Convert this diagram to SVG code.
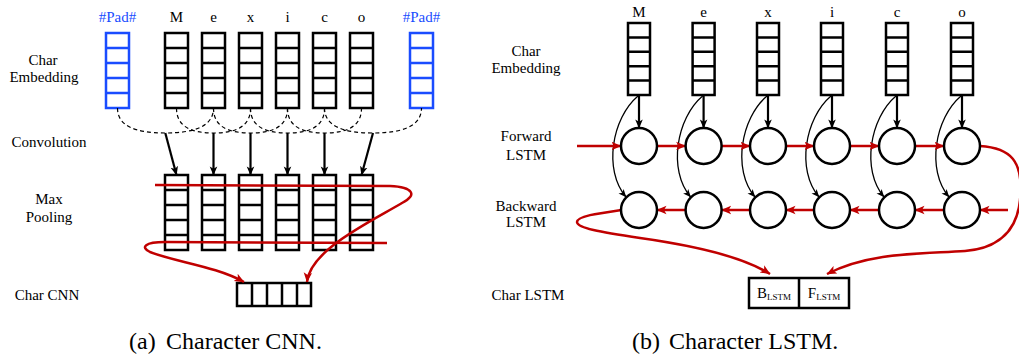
<svg xmlns="http://www.w3.org/2000/svg" width="1019" height="356" viewBox="0 0 1019 356" font-family="Liberation Serif, DejaVu Serif, serif">
<style>
text{font-family:'Liberation Serif','DejaVu Serif',serif;font-size:15px;fill:#000}
.lbl{text-anchor:middle}
.pad{fill:#1a4cff}
.box{fill:#fff;stroke:#000;stroke-width:2.5}
.bbox{fill:#fff;stroke:#1a4cff;stroke-width:2.5}
.cell{stroke:#000;stroke-width:2.5}
.bcell{stroke:#1a4cff;stroke-width:2.5}
.circ{fill:#fff;stroke:#000;stroke-width:2.5}
.dash{fill:none;stroke:#000;stroke-width:1.2;stroke-dasharray:4 3}
.blk{fill:none;stroke:#000;stroke-width:2.2}
.thin{fill:none;stroke:#000;stroke-width:1.3}
.red{fill:none;stroke:#c00000;stroke-width:2.5}
.cap{font-size:24px}
</style>
<defs>
<marker id="ahb" viewBox="0 0 10 10" refX="9.5" refY="5" markerWidth="9" markerHeight="9" markerUnits="userSpaceOnUse" orient="auto"><path d="M0,0.8 L10,5 L0,9.2 L2.5,5 z" fill="#000"/></marker>
<marker id="aht" viewBox="0 0 10 10" refX="9.5" refY="5" markerWidth="8" markerHeight="8" markerUnits="userSpaceOnUse" orient="auto"><path d="M0,0.8 L10,5 L0,9.2 L2.5,5 z" fill="#000"/></marker>
<marker id="ahr" viewBox="0 0 10 10" refX="9.5" refY="5" markerWidth="10" markerHeight="10" markerUnits="userSpaceOnUse" orient="auto"><path d="M0,0.8 L10,5 L0,9.2 L2.5,5 z" fill="#c00000"/></marker>
<g id="col5">
<rect class="box" x="0" y="0" width="23" height="75"/>
<path class="cell" d="M0,15H23M0,30H23M0,45H23M0,60H23"/>
</g>
<g id="bcol5">
<rect class="bbox" x="0" y="0" width="23" height="75"/>
<path class="bcell" d="M0,15H23M0,30H23M0,45H23M0,60H23"/>
</g>
<g id="rcol5">
<rect class="box" x="0" y="0" width="22" height="72"/>
<path class="cell" d="M0,14.4H22M0,28.8H22M0,43.2H22M0,57.6H22"/>
</g>
</defs>

<!-- ============ Panel (a) Character CNN ============ -->
<g id="a-labels">
<text class="lbl" x="43" y="65">Char</text>
<text class="lbl" x="44" y="82">Embedding</text>
<text class="lbl" x="49" y="147">Convolution</text>
<text class="lbl" x="49" y="204">Max</text>
<text class="lbl" x="49" y="222">Pooling</text>
<text class="lbl" x="47" y="300">Char CNN</text>
</g>

<g id="a-emb-padL"><text class="lbl pad" x="117.5" y="22">#Pad#</text><use href="#bcol5" x="106" y="33"/></g>
<g id="a-emb-M"><text class="lbl" x="176.5" y="22">M</text><use href="#col5" x="165" y="33"/></g>
<g id="a-emb-e"><text class="lbl" x="213.5" y="22">e</text><use href="#col5" x="202" y="33"/></g>
<g id="a-emb-x"><text class="lbl" x="250.5" y="22">x</text><use href="#col5" x="239" y="33"/></g>
<g id="a-emb-i"><text class="lbl" x="287.5" y="22">i</text><use href="#col5" x="276" y="33"/></g>
<g id="a-emb-c"><text class="lbl" x="324.5" y="22">c</text><use href="#col5" x="313" y="33"/></g>
<g id="a-emb-o"><text class="lbl" x="361.5" y="22">o</text><use href="#col5" x="350" y="33"/></g>
<g id="a-emb-padR"><text class="lbl pad" x="421.5" y="22">#Pad#</text><use href="#bcol5" x="410" y="33"/></g>

<g id="a-pool-1"><use href="#col5" x="165" y="175"/></g>
<g id="a-pool-2"><use href="#col5" x="202" y="175"/></g>
<g id="a-pool-3"><use href="#col5" x="239" y="175"/></g>
<g id="a-pool-4"><use href="#col5" x="276" y="175"/></g>
<g id="a-pool-5"><use href="#col5" x="313" y="175"/></g>
<g id="a-pool-6"><use href="#col5" x="350" y="175"/></g>

<g id="a-charcnn">
<rect class="box" x="237" y="283" width="74" height="23"/>
<path class="cell" d="M252,283V306M267,283V306M282,283V306M297,283V306"/>
</g>

<g id="a-connectors">
<path class="dash" d="M117.5,108 C117.5,126 135,133 165.3,133 C195,133 213.5,126 213.5,108"/>
<path class="dash" d="M176.5,108 C176.5,126 190,133 213.5,133 C237,133 250.5,126 250.5,108"/>
<path class="dash" d="M213.5,108 C213.5,126 227,133 250.5,133 C274,133 287.5,126 287.5,108"/>
<path class="dash" d="M250.5,108 C250.5,126 264,133 287.5,133 C311,133 324.5,126 324.5,108"/>
<path class="dash" d="M287.5,108 C287.5,126 301,133 324.5,133 C348,133 361.5,126 361.5,108"/>
<path class="dash" d="M324.5,108 C324.5,126 343,133 373,133 C403,133 421.5,126 421.5,108"/>
<path class="blk" marker-end="url(#ahb)" d="M165.3,133 L176.5,175"/>
<path class="blk" marker-end="url(#ahb)" d="M213.5,133 L213.5,175"/>
<path class="blk" marker-end="url(#ahb)" d="M250.5,133 L250.5,175"/>
<path class="blk" marker-end="url(#ahb)" d="M287.5,133 L287.5,175"/>
<path class="blk" marker-end="url(#ahb)" d="M324.5,133 L324.5,175"/>
<path class="blk" marker-end="url(#ahb)" d="M373,133 L361.5,175"/>
<path class="red" marker-end="url(#ahr)" d="M155,185 L390,186 C413,187 418,195 402,203 C370,222 310,250 307,282"/>
<path class="red" marker-end="url(#ahr)" d="M387,243 L165,242 C145,242 140,247 150,252 C175,262 215,266 244,282"/>
</g>

<g id="a-caption"><text class="cap" x="129" y="349">(a)</text><text class="cap" x="166" y="349">Character CNN.</text></g>

<!-- ============ Panel (b) Character LSTM ============ -->
<g id="b-labels">
<text class="lbl" x="526" y="56">Char</text>
<text class="lbl" x="526" y="73">Embedding</text>
<text class="lbl" x="526" y="141">Forward</text>
<text class="lbl" x="526" y="160">LSTM</text>
<text class="lbl" x="526" y="211">Backward</text>
<text class="lbl" x="526" y="227">LSTM</text>
<text class="lbl" x="528" y="300">Char LSTM</text>
</g>

<g id="b-emb-M"><text class="lbl" x="639" y="17">M</text><use href="#rcol5" x="628" y="23"/></g>
<g id="b-emb-e"><text class="lbl" x="703.6" y="17">e</text><use href="#rcol5" x="692.6" y="23"/></g>
<g id="b-emb-x"><text class="lbl" x="768" y="17">x</text><use href="#rcol5" x="757" y="23"/></g>
<g id="b-emb-i"><text class="lbl" x="832" y="17">i</text><use href="#rcol5" x="821" y="23"/></g>
<g id="b-emb-c"><text class="lbl" x="897" y="17">c</text><use href="#rcol5" x="886" y="23"/></g>
<g id="b-emb-o"><text class="lbl" x="962" y="17">o</text><use href="#rcol5" x="951" y="23"/></g>

<g id="b-connectors">
<path class="blk" marker-end="url(#ahb)" d="M639,95V128"/>
<path class="blk" marker-end="url(#ahb)" d="M703.6,95V128"/>
<path class="blk" marker-end="url(#ahb)" d="M768,95V128"/>
<path class="blk" marker-end="url(#ahb)" d="M832,95V128"/>
<path class="blk" marker-end="url(#ahb)" d="M897,95V128"/>
<path class="blk" marker-end="url(#ahb)" d="M962,95V128"/>
<path class="thin" marker-end="url(#aht)" d="M638,96 C612,118 603,170 626,197"/>
<path class="thin" marker-end="url(#aht)" d="M702.6,96 C676.6,118 667.6,170 690.6,197"/>
<path class="thin" marker-end="url(#aht)" d="M767,96 C741,118 732,170 755,197"/>
<path class="thin" marker-end="url(#aht)" d="M831,96 C805,118 796,170 819,197"/>
<path class="thin" marker-end="url(#aht)" d="M896,96 C870,118 861,170 884,197"/>
<path class="thin" marker-end="url(#aht)" d="M961,96 C935,118 926,170 949,197"/>
<path class="red" marker-end="url(#ahr)" d="M577,146H621"/>
<path class="red" marker-end="url(#ahr)" d="M657,146H685.6"/>
<path class="red" marker-end="url(#ahr)" d="M721.6,146H750"/>
<path class="red" marker-end="url(#ahr)" d="M786,146H814"/>
<path class="red" marker-end="url(#ahr)" d="M850,146H879"/>
<path class="red" marker-end="url(#ahr)" d="M915,146H944"/>
<path class="red" marker-end="url(#ahr)" d="M980,146 C1010,148 1024,160 1020,200 C1017,230 1000,248 965,251 C920,254 870,252 827,274"/>
<path class="red" marker-end="url(#ahr)" d="M1008,210H980"/>
<path class="red" marker-end="url(#ahr)" d="M944,210H915"/>
<path class="red" marker-end="url(#ahr)" d="M879,210H850"/>
<path class="red" marker-end="url(#ahr)" d="M814,210H786"/>
<path class="red" marker-end="url(#ahr)" d="M750,210H721.6"/>
<path class="red" marker-end="url(#ahr)" d="M685.6,210H657"/>
<path class="red" marker-end="url(#ahr)" d="M621,210 C600,213 577,216 577,222 C577,228 600,232 640,238 C690,245 740,255 770,274"/>
</g>

<g id="b-fwd-1"><circle class="circ" cx="639" cy="146" r="18"/></g>
<g id="b-fwd-2"><circle class="circ" cx="703.6" cy="146" r="18"/></g>
<g id="b-fwd-3"><circle class="circ" cx="768" cy="146" r="18"/></g>
<g id="b-fwd-4"><circle class="circ" cx="832" cy="146" r="18"/></g>
<g id="b-fwd-5"><circle class="circ" cx="897" cy="146" r="18"/></g>
<g id="b-fwd-6"><circle class="circ" cx="962" cy="146" r="18"/></g>
<g id="b-bwd-1"><circle class="circ" cx="639" cy="210" r="18"/></g>
<g id="b-bwd-2"><circle class="circ" cx="703.6" cy="210" r="18"/></g>
<g id="b-bwd-3"><circle class="circ" cx="768" cy="210" r="18"/></g>
<g id="b-bwd-4"><circle class="circ" cx="832" cy="210" r="18"/></g>
<g id="b-bwd-5"><circle class="circ" cx="897" cy="210" r="18"/></g>
<g id="b-bwd-6"><circle class="circ" cx="962" cy="210" r="18"/></g>

<g id="b-charlstm">
<rect class="box" x="749" y="278" width="100" height="30"/>
<path class="cell" d="M799,278V308"/>
<text class="lbl" x="774" y="298">B<tspan font-size="9" dy="2">LSTM</tspan></text>
<text class="lbl" x="824" y="298">F<tspan font-size="9" dy="2">LSTM</tspan></text>
</g>

<g id="b-caption"><text class="cap" x="632" y="349">(b)</text><text class="cap" x="669" y="349">Character LSTM.</text></g>
</svg>
